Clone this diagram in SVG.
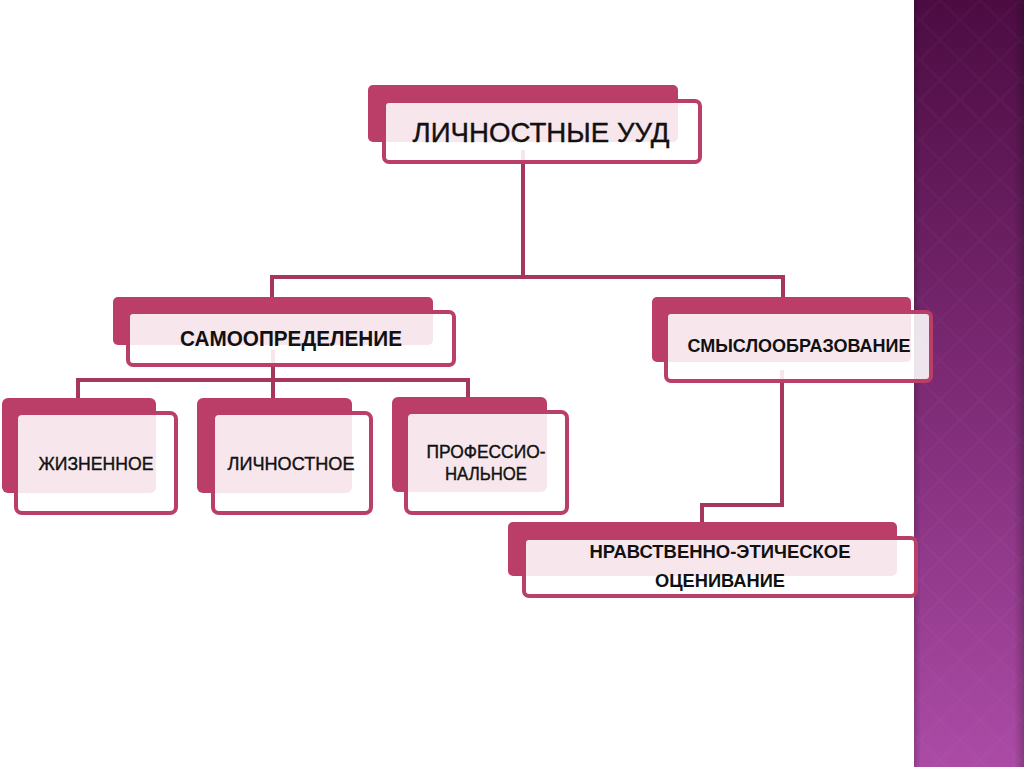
<svg xmlns="http://www.w3.org/2000/svg" width="1024" height="767" viewBox="0 0 1024 767">
<defs>
<linearGradient id="panel" x1="0" y1="0" x2="0" y2="1">
<stop offset="0" stop-color="#4c0c42"/>
<stop offset="0.5" stop-color="#7c2a74"/>
<stop offset="1" stop-color="#ab4ba6"/>
</linearGradient>
<linearGradient id="edgeL" x1="0" y1="0" x2="1" y2="0">
<stop offset="0" stop-color="#000" stop-opacity="0.18"/>
<stop offset="1" stop-color="#000" stop-opacity="0"/>
</linearGradient>
<linearGradient id="edgeR" x1="0" y1="0" x2="1" y2="0">
<stop offset="0" stop-color="#000" stop-opacity="0"/>
<stop offset="1" stop-color="#000" stop-opacity="0.22"/>
</linearGradient>
<pattern id="diamonds" width="40" height="40" patternUnits="userSpaceOnUse">
<path d="M20 0 L40 20 L20 40 L0 20 Z" fill="none" stroke="#fff" stroke-opacity="0.025" stroke-width="2"/>
</pattern>
</defs>
<style>
.back{fill:#bb3e69}
.front{fill:#fff;fill-opacity:0.88;stroke:#b93f69;stroke-width:4}
.conn{fill:none;stroke:#a5375f;stroke-width:4;stroke-linejoin:miter}
.t{font-family:"Liberation Sans","DejaVu Sans",sans-serif;fill:#111;text-anchor:middle}
.b{font-weight:bold}
.m{stroke:#111;stroke-width:0.4}
</style>
<rect width="1024" height="767" fill="#fff"/>
<g id="panel-bg">
<rect x="914" y="0" width="110" height="767" fill="url(#panel)"/>
<rect x="914" y="0" width="110" height="767" fill="url(#diamonds)"/>
<rect x="914" y="0" width="7" height="767" fill="url(#edgeL)"/>
<rect x="1014" y="0" width="10" height="767" fill="url(#edgeR)"/>
</g>
<g id="connectors">
<path class="conn" d="M523 150 V277 M272 277 H784 M272 275 V305 M783 275 V305"/>
<path class="conn" d="M273 350 V380 M78 380 H468 M78 378 V402 M273 378 V402 M468 378 V402"/>
<path class="conn" d="M782 370 V505 H702 V528"/>
</g>
<g id="node-lichnostnye-uud">
<rect class="back" x="368" y="85" width="310" height="57" rx="5"/>
<rect class="front" x="384" y="101" width="316" height="61" rx="5"/>
<text class="t m" x="541" y="142" font-size="28" textLength="257" lengthAdjust="spacingAndGlyphs">ЛИЧНОСТНЫЕ УУД</text>
</g>
<g id="node-samoopredelenie">
<rect class="back" x="113" y="297" width="320" height="48" rx="5"/>
<rect class="front" x="128" y="312" width="326" height="53" rx="5"/>
<text class="t b" x="291" y="346" font-size="22" textLength="222" lengthAdjust="spacingAndGlyphs">САМООПРЕДЕЛЕНИЕ</text>
</g>
<g id="node-smysloobrazovanie">
<rect class="back" x="652" y="297" width="259" height="65" rx="5"/>
<rect class="front" x="666" y="312" width="265" height="69" rx="5"/>
<text class="t b" x="799" y="352" font-size="19" textLength="223" lengthAdjust="spacingAndGlyphs">СМЫСЛООБРАЗОВАНИЕ</text>
</g>
<g id="node-zhiznennoe">
<rect class="back" x="2" y="398" width="154" height="95" rx="6"/>
<rect class="front" x="16" y="413" width="160" height="100" rx="6"/>
<text class="t m" x="96" y="470" font-size="19" textLength="115" lengthAdjust="spacingAndGlyphs">ЖИЗНЕННОЕ</text>
</g>
<g id="node-lichnostnoe">
<rect class="back" x="197" y="398" width="155" height="95" rx="6"/>
<rect class="front" x="213" y="413" width="158" height="100" rx="6"/>
<text class="t m" x="291" y="470" font-size="19" textLength="127" lengthAdjust="spacingAndGlyphs">ЛИЧНОСТНОЕ</text>
</g>
<g id="node-professionalnoe">
<rect class="back" x="392" y="397" width="155" height="95" rx="6"/>
<rect class="front" x="406" y="412" width="161" height="101" rx="6"/>
<text class="t m" x="486" y="458" font-size="18" textLength="119" lengthAdjust="spacingAndGlyphs">ПРОФЕССИО-</text>
<text class="t m" x="486" y="480" font-size="18" textLength="82" lengthAdjust="spacingAndGlyphs">НАЛЬНОЕ</text>
</g>
<g id="node-nravstvenno">
<rect class="back" x="508" y="522" width="389" height="54" rx="5"/>
<rect class="front" x="524" y="538" width="392" height="58" rx="5"/>
<text class="t b" x="720" y="558" font-size="18" textLength="261" lengthAdjust="spacingAndGlyphs">НРАВСТВЕННО-ЭТИЧЕСКОЕ</text>
<text class="t b" x="720" y="587" font-size="18" textLength="130" lengthAdjust="spacingAndGlyphs">ОЦЕНИВАНИЕ</text>
</g>
</svg>
